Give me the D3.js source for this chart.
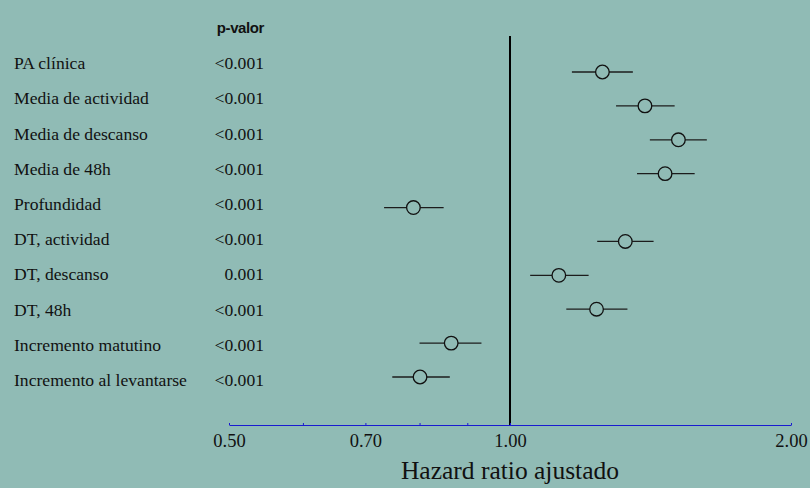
<!DOCTYPE html>
<html>
<head>
<meta charset="utf-8">
<script src="https://cdn.jsdelivr.net/npm/d3@7"></script>
<style>
  html, body { margin: 0; padding: 0; background: #90bbb5; }
  svg { display: block; }
</style>
</head>
<body>
<script>
var w = 810,
    h = 488,
    bg = "#90bbb5",
    serif = "'Liberation Serif', 'Times New Roman', serif";

// data
var variables = ["PA clínica", "Media de actividad", "Media de descanso", "Media de 48h",
  "Profundidad", "DT, actividad", "DT, descanso", "DT, 48h",
  "Incremento matutino", "Incremento al levantarse"];
var pValues = ["<0.001", "<0.001", "<0.001", "<0.001", "<0.001",
  "<0.001", "0.001", "<0.001", "<0.001", "<0.001"];
var hazardRatio = [1.256, 1.395, 1.515, 1.466, 0.788, 1.329, 1.128, 1.238, 0.865, 0.801];
var ciLower = [1.165, 1.299, 1.412, 1.368, 0.733, 1.240, 1.051, 1.149, 0.800, 0.748];
var ciUpper = [1.354, 1.501, 1.625, 1.577, 0.849, 1.425, 1.214, 1.336, 0.932, 0.862];
var tickValues = [0.5, 0.6, 0.7, 0.8, 0.9, 1.0, 2.0];
var tickLabels = {0.5: "0.50", 0.7: "0.70", 1: "1.00", 2: "2.00"};

var svg = d3.select("body").append("svg")
  .attr("width", w)
  .attr("height", h);

svg.append("rect")
  .attr("width", w).attr("height", h)
  .attr("fill", bg);

// scales
var x = d3.scaleLog().base(2)
  .domain([0.5, 2])
  .range([229, 791]);

var yMark = d3.scalePoint()
  .domain(d3.range(variables.length))
  .range([72, 377]);

var yLabel = d3.scalePoint()
  .domain(d3.range(variables.length))
  .range([63, 380]);

// header
svg.append("text")
  .attr("x", 264)
  .attr("y", 33)
  .attr("text-anchor", "end")
  .attr("fill", "#111")
  .style("font-family", "'Liberation Sans', Arial, sans-serif")
  .style("font-weight", "bold")
  .style("font-size", "15px")
  .style("letter-spacing", "-0.4px")
  .text("p-valor");

// left labels
var labels = svg.append("g")
  .style("font-family", serif)
  .style("font-size", "17.6px")
  .attr("fill", "#111");

labels.selectAll("text.var")
  .data(variables)
  .enter().append("text")
  .attr("class", "var")
  .attr("x", 14)
  .attr("y", function(d, i) { return yLabel(i); })
  .attr("dy", "0.35em")
  .text(function(d) { return d; });

labels.selectAll("text.pval")
  .data(pValues)
  .enter().append("text")
  .attr("class", "pval")
  .attr("x", 264)
  .attr("y", function(d, i) { return yLabel(i); })
  .attr("dy", "0.35em")
  .attr("text-anchor", "end")
  .text(function(d) { return d; });

// reference line at 1
svg.append("line")
  .attr("x1", x(1)).attr("x2", x(1))
  .attr("y1", 36).attr("y2", 425)
  .attr("stroke", "#000")
  .attr("stroke-width", 2);

// axis
var axis = d3.axisBottom(x)
  .tickValues(tickValues)
  .tickSizeInner(-2)
  .tickSizeOuter(0)
  .tickFormat(function(d) { return tickLabels[d] || ""; });

var gAxis = svg.append("g")
  .attr("transform", "translate(0,425)")
  .call(axis);

gAxis.select(".domain").attr("stroke", "#1a1ad0").attr("stroke-width", 1);
gAxis.selectAll(".tick line").attr("stroke", "#1a1ad0");
gAxis.selectAll(".tick text")
  .attr("y", 16)
  .attr("dy", "0.35em")
  .attr("fill", "#111")
  .style("font-family", serif)
  .style("font-size", "18.5px");

svg.append("text")
  .attr("x", x(1))
  .attr("y", 479)
  .attr("text-anchor", "middle")
  .attr("fill", "#111")
  .style("font-family", serif)
  .style("font-size", "25.5px")
  .text("Hazard ratio ajustado");

// confidence intervals and points
var marks = svg.append("g");

marks.selectAll("line.ci")
  .data(hazardRatio)
  .enter().append("line")
  .attr("class", "ci")
  .attr("x1", function(d, i) { return x(ciLower[i]); })
  .attr("x2", function(d, i) { return x(ciUpper[i]); })
  .attr("y1", function(d, i) { return yMark(i); })
  .attr("y2", function(d, i) { return yMark(i); })
  .attr("stroke", "#1c1c1c")
  .attr("stroke-width", 1.3);

marks.selectAll("circle")
  .data(hazardRatio)
  .enter().append("circle")
  .attr("cx", function(d) { return x(d); })
  .attr("cy", function(d, i) { return yMark(i); })
  .attr("r", 6.8)
  .attr("fill", bg)
  .attr("stroke", "#111")
  .attr("stroke-width", 1.3);
</script>
</body>
</html>
